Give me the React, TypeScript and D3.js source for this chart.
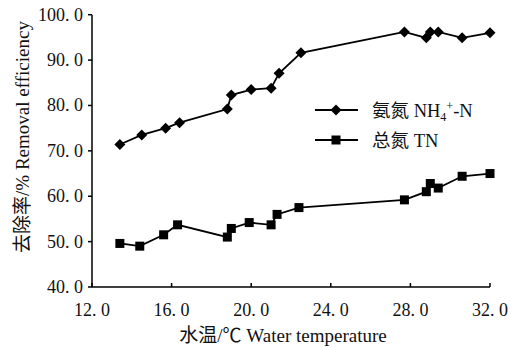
import React from "react";
import * as d3 from "d3";

const temps = [13.4, 14.5, 15.7, 16.4, 18.8, 19.0, 20.0, 21.0, 21.4, 22.5, 27.7, 28.8, 29.0, 29.4, 30.6, 32.0];
const nh4 = [71.4, 73.5, 75.0, 76.2, 79.2, 82.3, 83.5, 83.8, 87.1, 91.6, 96.2, 94.9, 96.2, 96.2, 94.9, 96.0];
const tnTemps = [13.4, 14.4, 15.6, 16.3, 18.8, 19.0, 19.9, 21.0, 21.3, 22.4, 27.7, 28.8, 29.0, 29.4, 30.6, 32.0];
const tn = [49.6, 49.0, 51.5, 53.7, 51.0, 52.9, 54.2, 53.7, 56.0, 57.5, 59.2, 61.0, 62.8, 61.8, 64.4, 65.0];
const xTicks = [12, 16, 20, 24, 28, 32];
const yTicks = [40, 50, 60, 70, 80, 90, 100];

const fmt = (v: number) => `${v.toFixed(0)}. 0`;
const font = "'Liberation Serif', 'Noto Sans CJK SC', serif";

export default function App() {
  const width = 530;
  const height = 347;
  const left = 92;
  const right = 490;
  const top = 14.7;
  const bottom = 287;

  const x = d3.scaleLinear().domain([12, 32]).range([left, right]);
  const y = d3.scaleLinear().domain([40, 100]).range([bottom, top]);

  const line = d3
    .line<[number, number]>()
    .x((d) => x(d[0]))
    .y((d) => y(d[1]));

  const nh4Pts: [number, number][] = temps.map((t, i) => [t, nh4[i]]);
  const tnPts: [number, number][] = tnTemps.map((t, i) => [t, tn[i]]);

  const diamond = (cx: number, cy: number, r = 5.5) =>
    `M${cx},${cy - r}L${cx + r},${cy}L${cx},${cy + r}L${cx - r},${cy}Z`;

  return (
    <svg
      width={width}
      height={height}
      style={{ position: "absolute", left: 0, top: 0, background: "#fff" }}
      fontFamily={font}
      fill="#111"
    >
      <rect width={width} height={height} fill="#fff" />
      {/* axes */}
      <line x1={left} y1={top} x2={left} y2={bottom} stroke="#000" strokeWidth={1.5} />
      <line x1={left} y1={bottom} x2={right} y2={bottom} stroke="#000" strokeWidth={1.5} />
      {yTicks.map((t) => (
        <g key={t}>
          <line x1={left - 4} y1={y(t)} x2={left} y2={y(t)} stroke="#000" strokeWidth={1.5} />
          <text x={83} y={y(t) + 6} textAnchor="end" fontSize={18}>
            {fmt(t)}
          </text>
        </g>
      ))}
      {xTicks.map((t) => (
        <g key={t}>
          <line x1={x(t)} y1={bottom - 4} x2={x(t)} y2={bottom} stroke="#000" strokeWidth={1.5} />
          <text x={x(t)} y={316} textAnchor="middle" fontSize={18}>
            {fmt(t)}
          </text>
        </g>
      ))}
      <text x={283} y={342} textAnchor="middle" fontSize={19}>
        水温/℃ Water temperature
      </text>
      <text
        transform={`translate(29, ${137}) rotate(-90)`}
        textAnchor="middle"
        fontSize={19}
      >
        去除率/% Removal efficiency
      </text>

      {/* series */}
      <path d={line(nh4Pts) ?? ""} fill="none" stroke="#000" strokeWidth={1.8} />
      {nh4Pts.map((d, i) => (
        <path key={i} d={diamond(x(d[0]), y(d[1]))} fill="#000" />
      ))}
      <path d={line(tnPts) ?? ""} fill="none" stroke="#000" strokeWidth={1.8} />
      {tnPts.map((d, i) => (
        <rect key={i} x={x(d[0]) - 4.5} y={y(d[1]) - 4.5} width={9} height={9} fill="#000" />
      ))}

      {/* legend */}
      <line x1={315} y1={110} x2={358} y2={110} stroke="#000" strokeWidth={1.8} />
      <path d={diamond(336, 110)} fill="#000" />
      <text x={372} y={117} fontSize={18.5}>
        氨氮 NH
        <tspan fontSize={12} dy={4}>4</tspan>
        <tspan fontSize={12} dy={-11}>+</tspan>
        <tspan dy={7}>-N</tspan>
      </text>
      <line x1={315} y1={140} x2={358} y2={140} stroke="#000" strokeWidth={1.8} />
      <rect x={331.5} y={135.5} width={9} height={9} fill="#000" />
      <text x={372} y={147} fontSize={18.5}>
        总氮 TN
      </text>
    </svg>
  );
}
